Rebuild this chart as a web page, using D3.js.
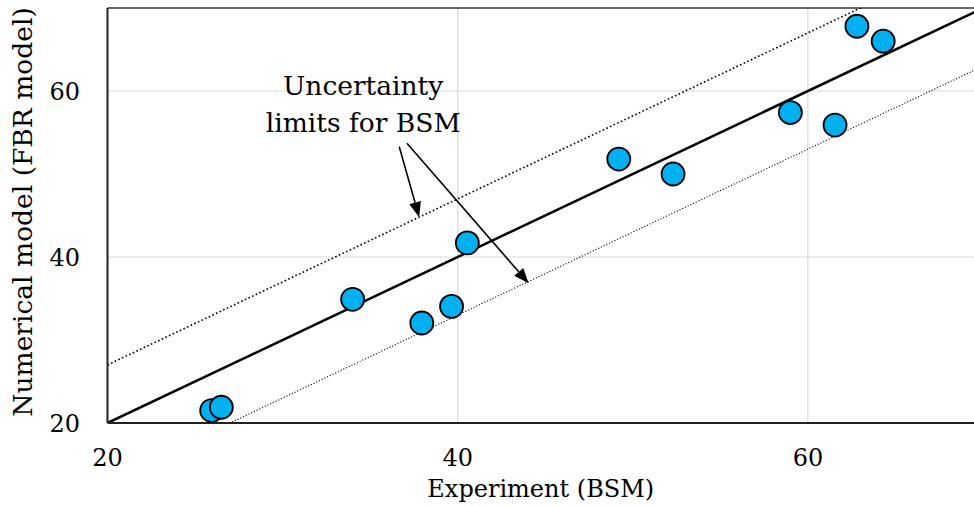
<!DOCTYPE html>
<html>
<head>
<meta charset="utf-8">
<script src="https://cdn.jsdelivr.net/npm/d3@7"></script>
<style>
  body { margin: 0; background: #fff; }
</style>
</head>
<body>
<div id="chart"></div>
<script>
// experiment (BSM) vs numerical model (FBR model)
var experiment = [25.95, 26.5, 34.0, 37.95, 39.65, 40.55, 49.2, 52.3, 59.0, 61.55, 62.8, 64.3];
var numerical  = [21.5, 21.9, 34.9, 32.05, 34.05, 41.7, 51.8, 50.0, 57.4, 55.9, 67.8, 66.0];

var xTicks = [20, 40, 60];
var yTicks = [20, 40, 60];
var gridValues = [40, 60];

// uncertainty band: y = x +/- 7
var offsets = [7, -7];
var lineX = [20, 70];

var noteLines = ["Uncertainty", "limits for BSM"];
var noteAnchor = [34.6, 59.5];
var arrows = [
    {from: [36.66, 53.3], to: [37.8, 44.8]},
    {from: [37.1, 53.7], to: [44.05, 36.85]}
];

var serif = "'DejaVu Serif', serif";

var W = 974, H = 506;
var margin = {top: 8, left: 107.5};
var plotH = 415;

var svg = d3.select("#chart").append("svg")
    .attr("width", W)
    .attr("height", H);

var x = d3.scaleLinear().domain([20, 70]).range([margin.left, margin.left + 875.5]);
var y = d3.scaleLinear().domain([20, 70]).range([margin.top + plotH, margin.top]);

// grid
svg.selectAll(".vgrid").data(gridValues).enter().append("line")
    .attr("x1", d => x(d)).attr("x2", d => x(d))
    .attr("y1", y(20)).attr("y2", y(70))
    .attr("stroke", "#d9d9d9").attr("stroke-width", 1.2);
svg.selectAll(".hgrid").data(gridValues).enter().append("line")
    .attr("y1", d => y(d)).attr("y2", d => y(d))
    .attr("x1", x(20)).attr("x2", x(70))
    .attr("stroke", "#d9d9d9").attr("stroke-width", 1.2);

// top border
svg.append("line")
    .attr("x1", x(20)).attr("x2", x(70))
    .attr("y1", y(70)).attr("y2", y(70))
    .attr("stroke", "#333").attr("stroke-width", 1.5);

// clip for lines
svg.append("clipPath").attr("id", "clip").append("rect")
    .attr("x", x(20)).attr("y", y(70))
    .attr("width", x(70) - x(20)).attr("height", y(20) - y(70));

var line = d3.line().x(d => x(d[0])).y(d => y(d[1]));
var plot = svg.append("g").attr("clip-path", "url(#clip)");

// 1:1 line
plot.append("path")
    .datum(lineX.map(v => [v, v]))
    .attr("d", line)
    .attr("fill", "none").attr("stroke", "#000").attr("stroke-width", 2.5);

// uncertainty limits
plot.selectAll(".limit").data(offsets).enter().append("path")
    .attr("d", o => line(lineX.map(v => [v, v + o])))
    .attr("fill", "none").attr("stroke", "#000")
    .attr("stroke-width", (o, i) => i === 0 ? 1.6 : 1.1)
    .attr("stroke-dasharray", (o, i) => i === 0 ? "1.6,2.4" : "1.1,1.9");

// axes lines
svg.append("line")
    .attr("x1", x(20)).attr("x2", x(20))
    .attr("y1", y(20)).attr("y2", y(70))
    .attr("stroke", "#222").attr("stroke-width", 2);
svg.append("line")
    .attr("x1", x(20)).attr("x2", x(70))
    .attr("y1", y(20)).attr("y2", y(20))
    .attr("stroke", "#222").attr("stroke-width", 2.2);

// points
svg.selectAll(".pt").data(experiment).enter().append("circle")
    .attr("cx", d => x(d))
    .attr("cy", (d, i) => y(numerical[i]))
    .attr("r", 11.5)
    .attr("fill", "#00b0f0")
    .attr("stroke", "#000").attr("stroke-width", 1.8);

// tick labels
svg.selectAll(".xt").data(xTicks).enter().append("text")
    .attr("x", d => x(d)).attr("y", y(20) + 43)
    .attr("text-anchor", "middle")
    .style("font-family", serif)
    .style("font-size", "24px")
    .text(d => d);
svg.selectAll(".yt").data(yTicks).enter().append("text")
    .attr("x", 80).attr("y", d => y(d) + 9)
    .attr("text-anchor", "end")
    .style("font-family", serif)
    .style("font-size", "24px")
    .text(d => d);

// axis titles
svg.append("text")
    .attr("x", (x(20) + W) / 2).attr("y", 497)
    .attr("text-anchor", "middle")
    .style("font-family", serif)
    .style("font-size", "24px")
    .text("Experiment (BSM)");
svg.append("text")
    .attr("transform", "translate(32," + 212 + ") rotate(-90)")
    .attr("text-anchor", "middle")
    .style("font-family", serif)
    .style("font-size", "26.5px")
    .text("Numerical model (FBR model)");

// annotation
svg.selectAll(".note").data(noteLines).enter().append("text")
    .attr("x", x(noteAnchor[0]))
    .attr("y", (d, i) => y(noteAnchor[1]) + i * 37)
    .attr("text-anchor", "middle")
    .style("font-family", serif)
    .style("font-size", "26.5px")
    .text(d => d);

// arrows with drawn heads
var headLen = 15, headHalf = 6;
arrows.forEach(function(a) {
    var x1 = x(a.from[0]), y1 = y(a.from[1]);
    var x2 = x(a.to[0]), y2 = y(a.to[1]);
    var ang = Math.atan2(y2 - y1, x2 - x1);
    var bx = x2 - headLen * Math.cos(ang), by = y2 - headLen * Math.sin(ang);
    svg.append("line")
        .attr("x1", x1).attr("y1", y1).attr("x2", bx).attr("y2", by)
        .attr("stroke", "#000").attr("stroke-width", 1.6);
    var px = -Math.sin(ang), py = Math.cos(ang);
    svg.append("path")
        .attr("d", "M" + x2 + "," + y2 +
            "L" + (bx + px * headHalf) + "," + (by + py * headHalf) +
            "L" + (bx - px * headHalf) + "," + (by - py * headHalf) + "Z")
        .attr("fill", "#000");
});
</script>
</body>
</html>
